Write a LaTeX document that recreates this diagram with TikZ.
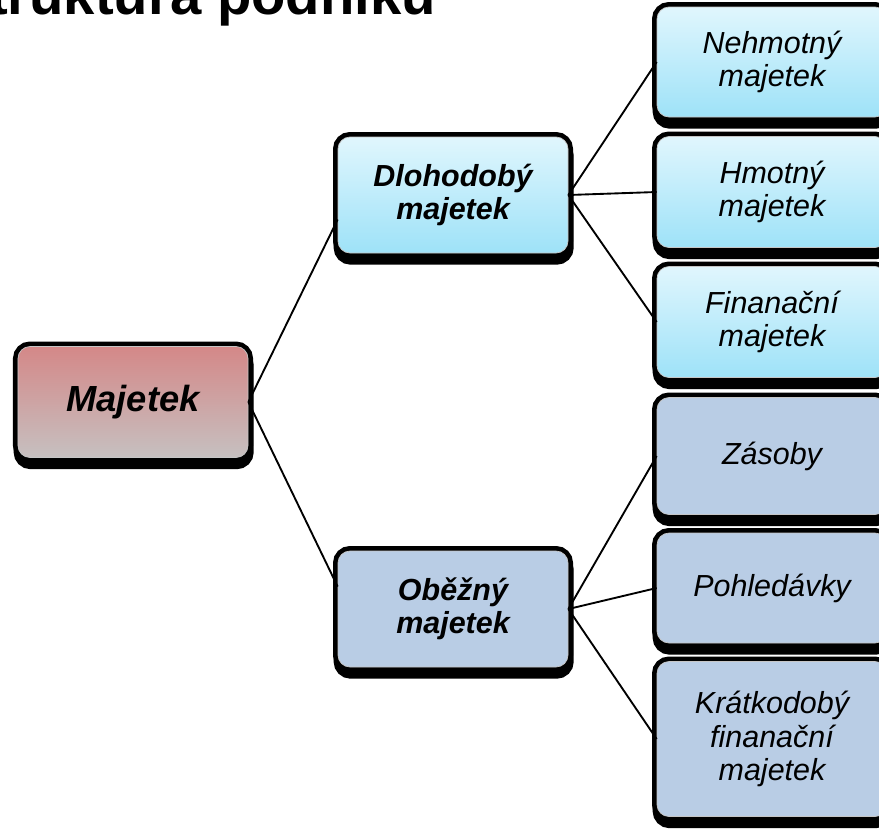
\documentclass[tikz,border=0pt]{standalone}
\usepackage{fontspec}
\setmainfont{Liberation Sans}
\usetikzlibrary{shadows}

\definecolor{rootTop}{RGB}{212,136,136}
\definecolor{rootBot}{RGB}{198,192,192}
\definecolor{skyTop}{RGB}{224,246,253}
\definecolor{skyBot}{RGB}{158,226,248}
\definecolor{steel}{RGB}{185,205,229}

\begin{document}
\begin{tikzpicture}[x=0.03cm, y=-0.03cm,
  box/.style={rounded corners=0.36cm, minimum width=6.9cm, align=center, inner sep=0pt,
    draw=gray!45, line width=0.6pt,
    general shadow={fill=black, draw=black, line width=0.3cm, shadow xshift=0.02cm, shadow yshift=-0.2cm},
    preaction={draw=black, line width=0.3cm},
    font=\fontsize{26}{28.5}\selectfont\itshape},
  rootbox/.style={box, top color=rootTop, bottom color=rootBot, font=\fontsize{31}{34}\selectfont\bfseries\itshape},
  skybox/.style={box, top color=skyTop, bottom color=skyBot},
  steelbox/.style={box, fill=steel},
  link/.style={line width=1.6pt}]

  \useasboundingbox (0,0) rectangle (879,828);
  \clip (0,0) rectangle (879,828);

  % title, cut by the frame
  \node [anchor=base east, inner sep=0pt, font=\fontsize{48}{50}\selectfont\bfseries] (title) at (436,14) {Struktura podniku};

  % root
  \node [rootbox, minimum height=3.33cm] (maj) at (133,402) {Majetek};

  % second level
  \node [skybox, minimum height=3.48cm, font=\fontsize{26}{28.5}\selectfont\bfseries\itshape] (dlo) at (453,195) {Dlohodobý\\majetek};
  \node [steelbox, minimum height=3.48cm, font=\fontsize{26}{28.5}\selectfont\bfseries\itshape] (obe) at (453,609) {Oběžný\\majetek};

  % third level
  \node [skybox, minimum height=3.30cm] (neh) at (772,62) {Nehmotný\\majetek};
  \node [skybox, minimum height=3.33cm] (hmo) at (772,192) {Hmotný\\majetek};
  \node [skybox, minimum height=3.33cm] (fin) at (772,322) {Finanační\\majetek};
  \node [steelbox, minimum height=3.51cm] (zas) at (772,456) {Zásoby};
  \node [steelbox, minimum height=3.30cm] (poh) at (772,588) {Pohledávky};
  \node [steelbox, minimum height=4.65cm] (kra) at (772,739) {Krátkodobý\\finanační\\majetek};

  % connectors
  \draw [link] (maj.east) -- (dlo.192);
  \draw [link] (maj.east) -- (obe.169);
  \draw [link] (dlo.east) -- (neh.west);
  \draw [link] (dlo.east) -- (hmo.west);
  \draw [link] (dlo.east) -- (fin.west);
  \draw [link] (obe.east) -- (zas.west);
  \draw [link] (obe.east) -- (poh.west);
  \draw [link] (obe.east) -- (kra.west);
\end{tikzpicture}
\end{document}
